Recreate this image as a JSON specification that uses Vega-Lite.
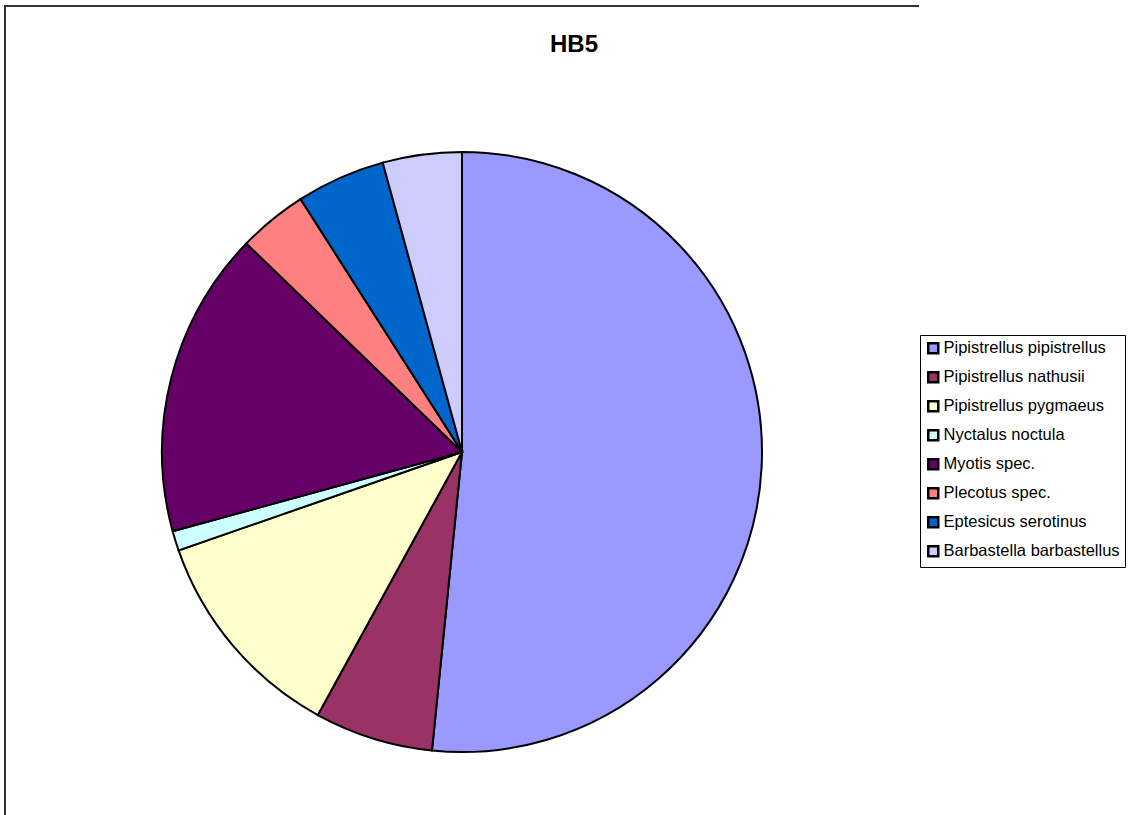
{
  "$schema": "https://vega.github.io/schema/vega-lite/v6.json",
  "autosize": "none",
  "padding": {"left": 5, "top": 6, "right": 214, "bottom": 0},
  "width": 914,
  "height": 892,
  "background": "white",
  "view": {"stroke": "#333333", "strokeWidth": 2, "strokeDash": [914, 1806, 892, 10]},
  "title": {
    "text": "HB5",
    "font": "Liberation Sans",
    "fontSize": 24,
    "fontWeight": "bold",
    "color": "black",
    "anchor": "middle",
    "frame": "group",
    "baseline": "alphabetic",
    "offset": -70,
    "dx": 112
  },
  "data": {
    "values": [
      {"species": "Pipistrellus pipistrellus", "count": 97, "idx": 1},
      {"species": "Pipistrellus nathusii", "count": 12, "idx": 2},
      {"species": "Pipistrellus pygmaeus", "count": 22, "idx": 3},
      {"species": "Nyctalus noctula", "count": 2, "idx": 4},
      {"species": "Myotis spec.", "count": 31, "idx": 5},
      {"species": "Plecotus spec.", "count": 7, "idx": 6},
      {"species": "Eptesicus serotinus", "count": 9, "idx": 7},
      {"species": "Barbastella barbastellus", "count": 8, "idx": 8}
    ]
  },
  "mark": {"type": "arc", "outerRadius": 300, "stroke": "black", "strokeWidth": 2},
  "encoding": {
    "theta": {"field": "count", "type": "quantitative", "stack": true},
    "order": {"field": "idx", "type": "quantitative"},
    "color": {
      "field": "species",
      "type": "nominal",
      "scale": {
        "domain": ["Pipistrellus pipistrellus", "Pipistrellus nathusii", "Pipistrellus pygmaeus", "Nyctalus noctula", "Myotis spec.", "Plecotus spec.", "Eptesicus serotinus", "Barbastella barbastellus"],
        "range": ["#9999FF", "#993366", "#FFFFCC", "#CCFFFF", "#660066", "#FF8080", "#0066CC", "#CCCCFF"]
      },
      "legend": {
        "title": null,
        "orient": "none",
        "legendX": 915,
        "legendY": 329,
        "strokeColor": "black",
        "padding": 5,
        "symbolType": "square",
        "symbolSize": 100,
        "symbolStrokeColor": "black",
        "symbolStrokeWidth": 2.5,
        "symbolOpacity": 1,
        "labelFont": "Liberation Sans",
        "labelFontSize": 16.5,
        "labelColor": "black",
        "labelOffset": 2,
        "rowPadding": 8,
        "labelLimit": 300
      }
    }
  }
}
